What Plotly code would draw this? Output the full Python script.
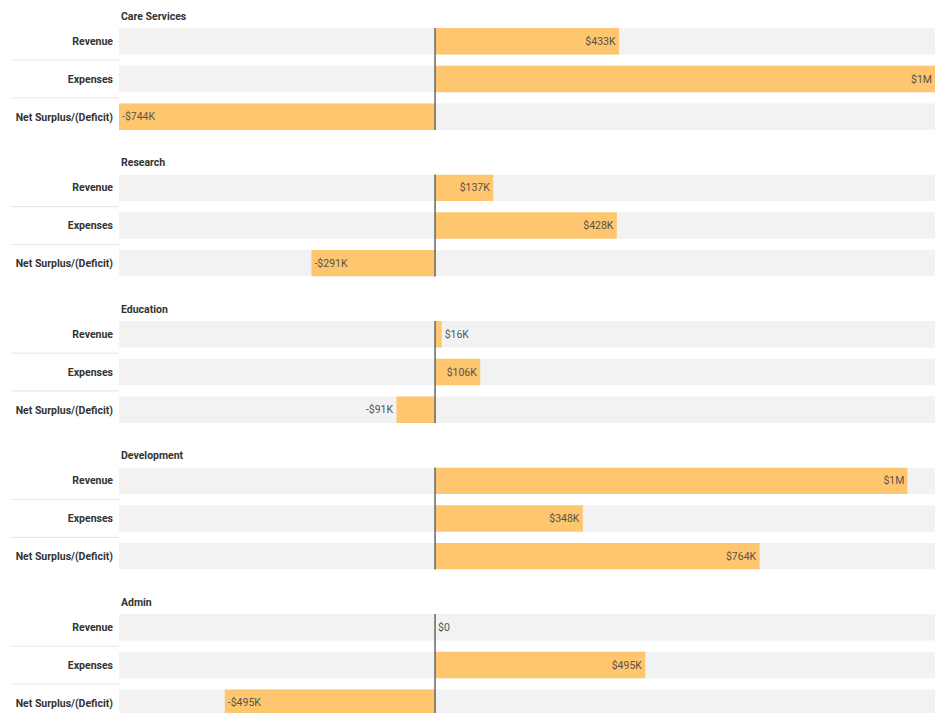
import plotly.graph_objects as go

# ---- data ----
groups = ["Care Services", "Research", "Education", "Development", "Admin"]
metrics = ["Revenue", "Expenses", "Net Surplus/(Deficit)"]
revenue = [433000, 137000, 15600, 1112000, 0]
expenses = [1177000, 428000, 106400, 348000, 495000]
net = [-744000, -291000, -90800, 764000, -495000]


def fmt(v):
    s = "-" if v < 0 else ""
    a = abs(v)
    if a >= 1e6:
        return f"{s}${a / 1e6:.0f}M"
    if a >= 1e3:
        return f"{s}${a / 1e3:.0f}K"
    return f"{s}${a:.0f}"


all_vals = revenue + expenses + net
xmin, xmax = min(all_vals), max(all_vals)

# page body has an 8px margin; figure is sized to fill the rest of the window
W, H = 937, 705
ML, MR = 111, 10
ORANGE = "#FEC66E"
GRAY = "#F2F2F2"
FONT = "Roboto"

# layout geometry (pixels, figure coordinates)
row_px = 37.8
bar_w = 0.7
first_top = 20
group_pitch = 146.5

fig = go.Figure()
layout = dict(
    width=W, height=H,
    margin=dict(l=ML, r=MR, t=0, b=0),
    paper_bgcolor="white", plot_bgcolor="white",
    barmode="overlay", showlegend=False,
    font=dict(family=FONT, size=11, color="#333"),
)
shapes = []
annotations = []

for k, g in enumerate(groups):
    sfx = "" if k == 0 else str(k + 1)
    xa, ya = "x" + sfx, "y" + sfx
    vals = [revenue[k], expenses[k], net[k]]

    # background track
    fig.add_trace(go.Bar(
        y=metrics, x=[xmax - xmin] * 3, base=xmin, orientation="h",
        marker=dict(color=GRAY, line=dict(width=0)), width=bar_w,
        hoverinfo="skip", xaxis=xa, yaxis=ya,
    ))
    # value bars
    fig.add_trace(go.Bar(
        y=metrics, x=vals, orientation="h",
        marker=dict(color=ORANGE, line=dict(width=0)), width=bar_w,
        text=[fmt(v) for v in vals],
        textposition=["inside" if abs(v) >= 100000 else "outside" for v in vals],
        insidetextanchor="end",
        textfont=dict(family=FONT, size=10.5, color="#5a5248"),
        outsidetextfont=dict(family=FONT, size=10.5, color="#555"),
        insidetextfont=dict(family=FONT, size=10.5, color="#5a5248"),
        cliponaxis=False, constraintext="none",
        xaxis=xa, yaxis=ya,
    ))

    top = first_top + group_pitch * k
    bottom = min(top + (2 + bar_w) * row_px, H)
    r_top = -bar_w / 2
    r_bot = r_top + (bottom - top) / row_px

    layout["xaxis" + sfx] = dict(
        domain=[0, 1], range=[xmin, xmax], anchor=ya,
        showticklabels=False, showgrid=False, zeroline=False,
        showline=False, ticks="", fixedrange=True,
    )
    layout["yaxis" + sfx] = dict(
        domain=[1 - bottom / H, 1 - top / H], anchor=xa,
        type="category", categoryorder="array", categoryarray=metrics,
        range=[r_bot, r_top],
        showgrid=False, zeroline=False, showline=False, ticks="",
        ticklabelstandoff=5,
        tickfont=dict(family=FONT, size=10.5, color="#333", weight=700),
        fixedrange=True,
    )

    # zero line
    shapes.append(dict(
        type="line", xref=xa, yref=ya + " domain", x0=0, x1=0, y0=0, y1=1,
        line=dict(color="#666", width=1.5), layer="above",
    ))
    # separators in label area
    for yv in (0.5, 1.5):
        shapes.append(dict(
            type="line", xref="paper", yref=ya,
            x0=(3 - ML) / (W - ML - MR), x1=0, y0=yv, y1=yv,
            line=dict(color="#e4e4e4", width=1), layer="below",
        ))
    # group header
    annotations.append(dict(
        text=g, xref="paper", yref="paper", x=0, y=1 - (top - 12) / H,
        xanchor="left", yanchor="middle", showarrow=False,
        font=dict(family=FONT, size=10.5, color="#333", weight=700),
    ))

layout["shapes"] = shapes
layout["annotations"] = annotations
fig.update_layout(**layout)
fig.write_html("out.html")
